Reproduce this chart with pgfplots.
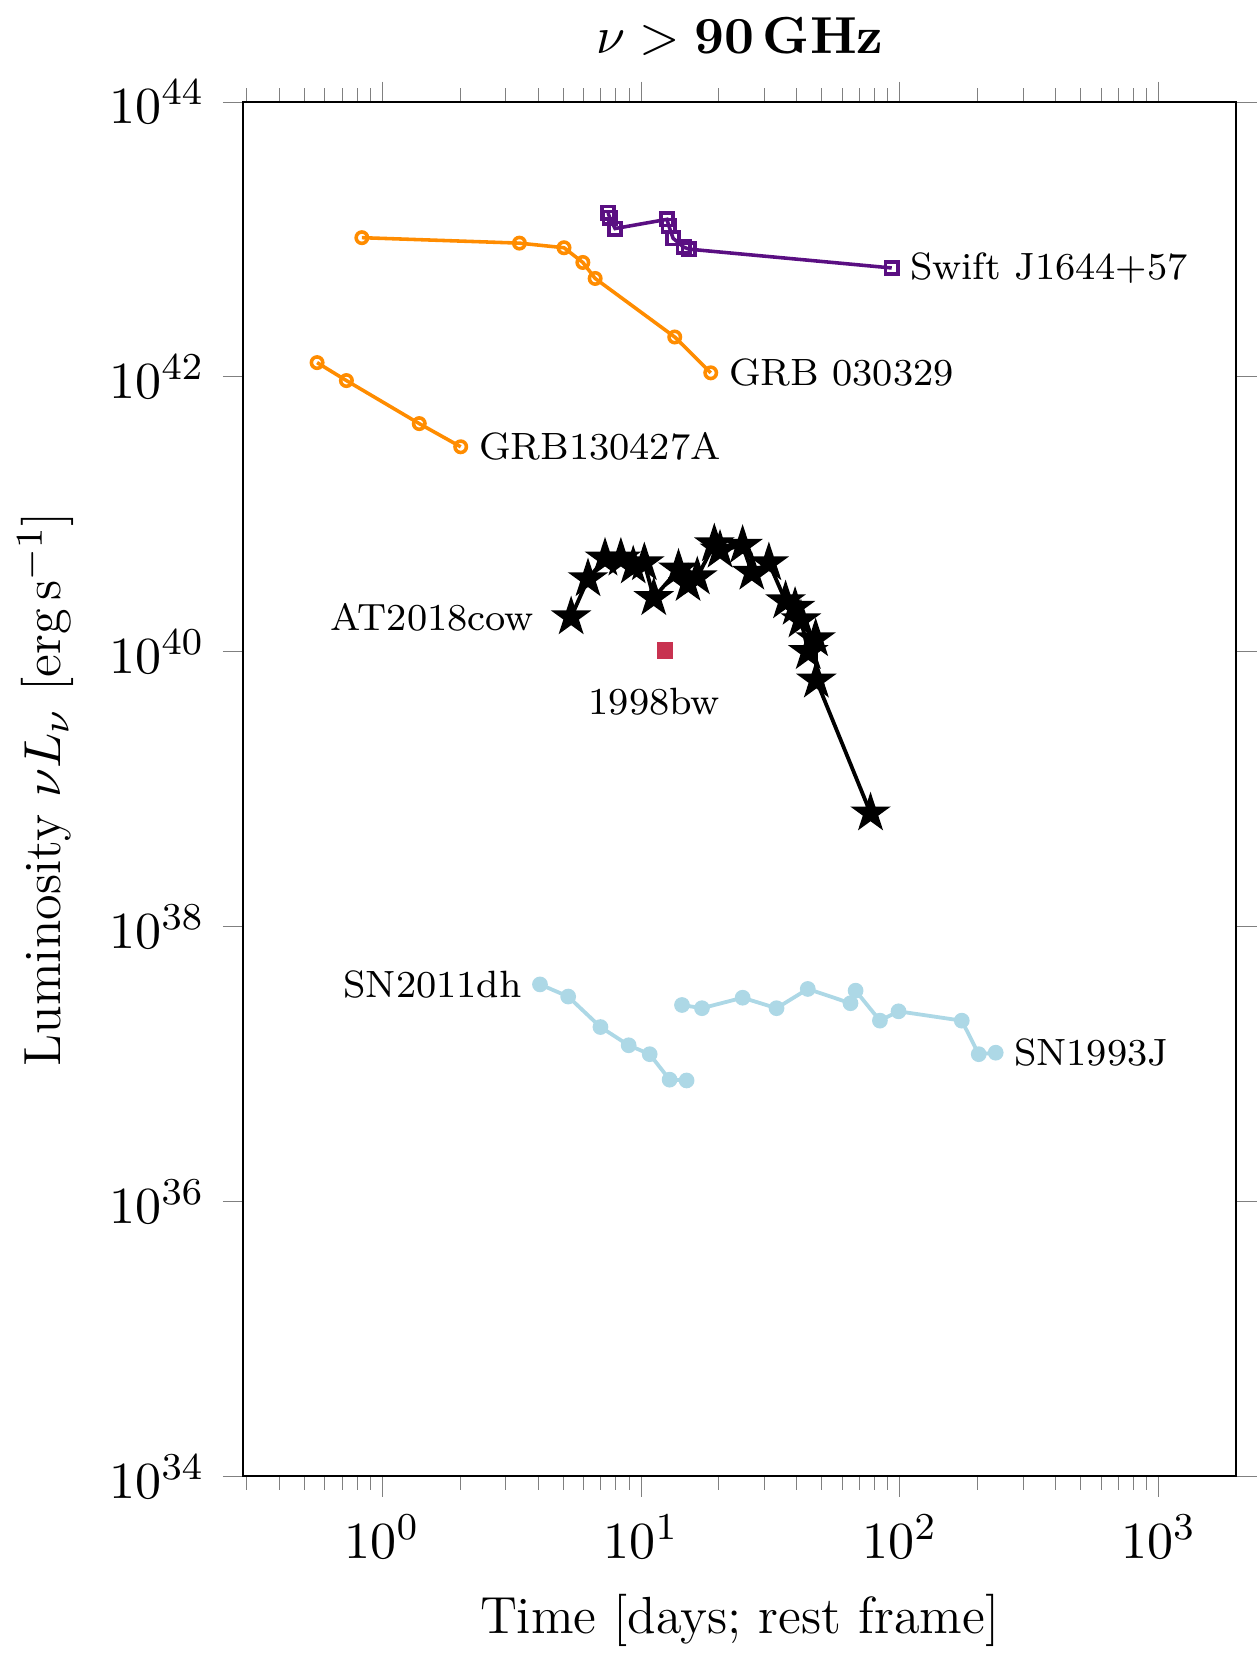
\documentclass[border=0pt]{standalone}
\usepackage{pgfplots}
\pgfplotsset{compat=1.18}

\definecolor{grborange}{RGB}{255,140,0}
\definecolor{swiftpurple}{RGB}{90,15,130}
\definecolor{bwred}{RGB}{200,50,80}
\definecolor{snblue}{RGB}{173,216,230}

% filled five-point star
\pgfdeclareplotmark{fstar}{%
  \pgfpathmoveto{\pgfqpointpolar{90}{\pgfplotmarksize}}%
  \pgfpathlineto{\pgfqpointpolar{126}{.382\pgfplotmarksize}}%
  \pgfpathlineto{\pgfqpointpolar{162}{\pgfplotmarksize}}%
  \pgfpathlineto{\pgfqpointpolar{198}{.382\pgfplotmarksize}}%
  \pgfpathlineto{\pgfqpointpolar{234}{\pgfplotmarksize}}%
  \pgfpathlineto{\pgfqpointpolar{270}{.382\pgfplotmarksize}}%
  \pgfpathlineto{\pgfqpointpolar{306}{\pgfplotmarksize}}%
  \pgfpathlineto{\pgfqpointpolar{342}{.382\pgfplotmarksize}}%
  \pgfpathlineto{\pgfqpointpolar{18}{\pgfplotmarksize}}%
  \pgfpathlineto{\pgfqpointpolar{54}{.382\pgfplotmarksize}}%
  \pgfpathclose
  \pgfusepathqfillstroke}

\begin{document}
\fontsize{11}{13}\selectfont
\begin{tikzpicture}
\begin{axis}[
    xmode=log, ymode=log,
    scale only axis,
    width=209pt, height=289.2pt,
    xmin=0.29, xmax=2000,
    ymin=1e34, ymax=1e44,
    ytick={1e34,1e36,1e38,1e40,1e42,1e44},
    tick align=outside,
    xlabel={Time [days{\char59} rest frame]},
    ylabel={Luminosity $\nu L_\nu$ [erg\,s$^{-1}$]},
    title={$\nu > \mathbf{90\,GHz}$},
]
\addplot[grborange, line width=0.75pt, mark=o, mark size=1.2pt] coordinates {
  (0.834,1.03e43) (3.39,9.4e42) (5.04,8.7e42) (5.96,6.8e42)
  (6.65,5.2e42) (13.5,1.95e42) (18.6,1.07e42)};
\addplot[grborange, line width=0.75pt, mark=o, mark size=1.2pt] coordinates {
  (0.56,1.27e42) (0.727,9.4e41) (1.39,4.57e41) (2.01,3.1e41)};
\addplot[swiftpurple, line width=0.75pt, mark=square, mark size=1.3pt] coordinates {
  (7.46,1.56e43) (7.57,1.44e43) (7.94,1.20e43) (12.6,1.40e43)
  (12.8,1.26e43) (13.3,1.02e43) (14.6,8.8e42) (15.3,8.5e42)
  (93.1,6.2e42)};
\addplot[black, line width=0.8pt, mark=fstar, mark size=3.2pt] coordinates {
  (5.37,1.79e40) (6.24,3.39e40) (7.26,4.79e40) (8.36,4.79e40)
  (9.33,4.20e40) (10.3,4.43e40) (11.2,2.47e40) (13.96,3.98e40)
  (15.2,3.13e40) (16.5,3.5e40) (19.2,6.08e40) (20.2,5.47e40)
  (24.7,5.93e40) (26.8,3.78e40) (31.2,4.43e40) (36.2,2.34e40)
  (39.4,2.10e40) (41.5,1.70e40) (44.3,1.00e40) (47.3,1.24e40)
  (47.6,6.2e39) (77.1,6.7e38)};
\addplot[only marks, bwred, mark=square*, mark size=1.5pt] coordinates {
  (12.4,1.02e40)};
\addplot[snblue, line width=0.8pt, mark=*, mark size=1.25pt] coordinates {
  (4.07,3.80e37) (5.23,3.10e37) (6.97,1.86e37) (8.96,1.37e37)
  (10.8,1.18e37) (12.9,7.7e36) (15.0,7.6e36)};
\addplot[snblue, line width=0.8pt, mark=*, mark size=1.25pt] coordinates {
  (14.4,2.69e37) (17.2,2.55e37) (24.7,3.04e37) (33.4,2.55e37)
  (44.1,3.52e37) (64.5,2.77e37) (67.5,3.42e37) (83.8,2.07e37)
  (98.9,2.42e37) (173.6,2.07e37) (201.9,1.18e37) (234.8,1.21e37)};
\node[anchor=west, font=\footnotesize] at (axis cs:93.1,6.2e42) {Swift J1644+57};
\node[anchor=west, font=\footnotesize] at (axis cs:18.6,1.07e42) {GRB 030329};
\node[anchor=west, font=\footnotesize] at (axis cs:2.01,3.1e41) {GRB130427A};
\node[anchor=east, font=\footnotesize, xshift=-4pt] at (axis cs:5.37,1.79e40) {AT2018cow};
\node[font=\footnotesize, xshift=-2.3pt, yshift=-10.8pt] at (axis cs:12.4,1.02e40) {1998bw};
\node[anchor=east, font=\footnotesize] at (axis cs:4.07,3.80e37) {SN2011dh};
\node[anchor=west, font=\footnotesize] at (axis cs:234.8,1.21e37) {SN1993J};
\end{axis}
\end{tikzpicture}
\end{document}
